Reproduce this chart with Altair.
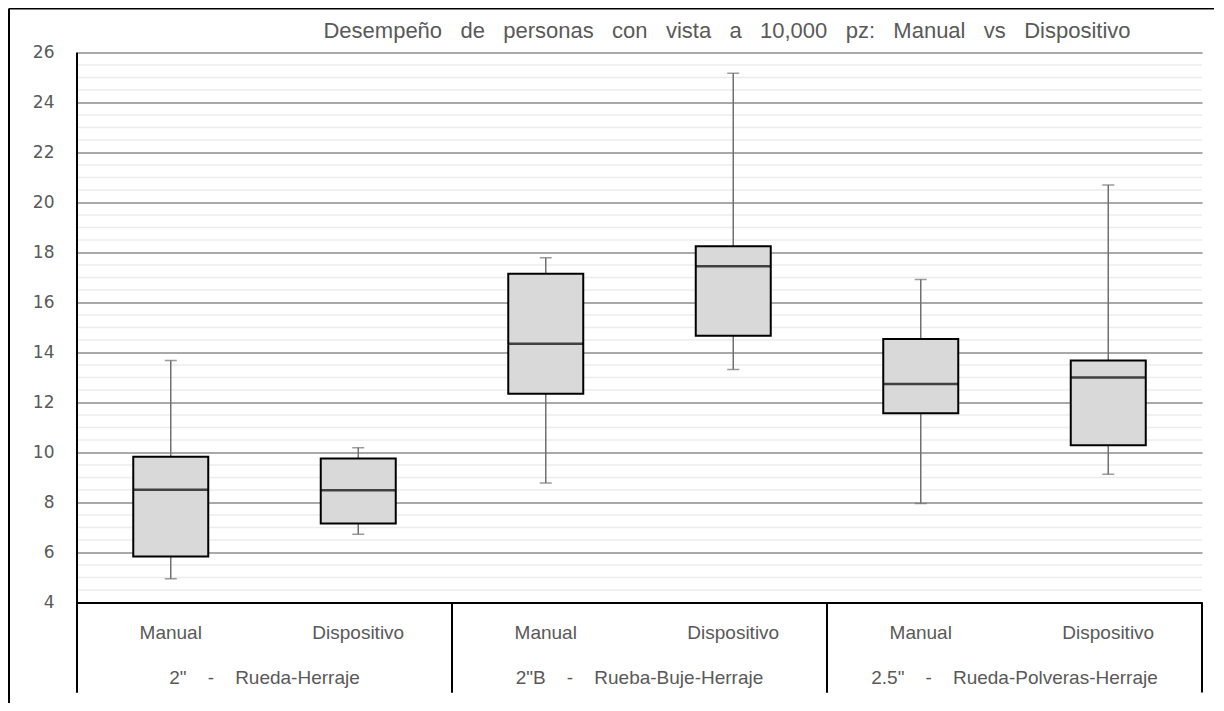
import altair as alt
import pandas as pd

# ---- data ----
groups = ['2"  -  Rueda-Herraje', '2"B  -  Rueba-Buje-Herraje', '2.5"  -  Rueda-Polveras-Herraje']
methods = ["Manual", "Dispositivo"]
mins = [4.95, 6.73, 8.78, 13.32, 7.96, 9.13]
q1s = [5.84, 7.16, 12.35, 14.67, 11.57, 10.29]
medians = [8.51, 8.49, 14.35, 17.45, 12.74, 13.00]
q3s = [9.83, 9.76, 17.15, 18.25, 14.54, 13.68]
maxs = [13.68, 10.19, 17.79, 25.17, 16.92, 20.70]
major_ticks = [4, 6, 8, 10, 12, 14, 16, 18, 20, 22, 24, 26]
minor_step = 0.5
title_text = "Desempeño de personas con vista a 10,000 pz: Manual vs Dispositivo"

NB = "\u00a0"
rows = []
for gi, g in enumerate(groups):
    for mi, m in enumerate(methods):
        i = gi * 2 + mi
        rows.append({"key": f"{gi}|{m}", "group": g, "method": m,
                     "lo": mins[i], "q1": q1s[i], "med": medians[i],
                     "q3": q3s[i], "hi": maxs[i]})
df = pd.DataFrame(rows)
keys = list(df["key"])
grp_df = pd.DataFrame({"key": [f"{gi}|Manual" for gi in range(len(groups))],
                       "endkey": [f"{gi}|Dispositivo" for gi in range(len(groups))],
                       "group": [g.replace(" ", NB + NB) for g in groups]})

minor_vals = [major_ticks[0] + minor_step * k
              for k in range(int((major_ticks[-1] - major_ticks[0]) / minor_step) + 1)]
minor_df = pd.DataFrame({"v": [v for v in minor_vals if v not in major_ticks]})

W, H = 1125, 550
GRAY = "#595959"
FONT = "Liberation Sans"

xscale = alt.Scale(domain=keys, paddingInner=0, paddingOuter=0)
yscale = alt.Scale(domain=[major_ticks[0], major_ticks[-1]], nice=False, zero=False)

xaxis = alt.Axis(title=None, labelExpr="split(datum.label, '|')[1]", ticks=False, tickSize=0,
                 labelPadding=30, labelBaseline="middle", labelAngle=0,
                 labelFontSize=19, labelColor=GRAY, labelFont=FONT,
                 domainColor="black", domainWidth=2, grid=False)
yaxis = alt.Axis(title=None, values=major_ticks, grid=True, gridColor="#8c8c8c",
                 gridWidth=1.5, labelOverlap=False, ticks=False, tickSize=0, labelPadding=23,
                 labelFontSize=17, labelColor=GRAY, labelFont="DejaVu Sans",
                 domain=False)

minor = alt.Chart(minor_df).mark_rule(color="#ececec", strokeWidth=1.5).encode(
    y=alt.Y("v:Q", scale=yscale, axis=yaxis))

base = alt.Chart(df)
X = alt.X("key:N", scale=xscale, axis=xaxis, sort=keys)

whisker = base.mark_rule(color="#707070", strokeWidth=1.5).encode(
    x=X, y=alt.Y("lo:Q", scale=yscale, axis=yaxis), y2="hi:Q")
cap_lo = base.mark_tick(color="#707070", size=12, thickness=1.5).encode(x=X, y="lo:Q")
cap_hi = base.mark_tick(color="#707070", size=12, thickness=1.5).encode(x=X, y="hi:Q")
box = base.mark_bar(size=75, color="#d9d9d9", stroke="black", strokeWidth=2).encode(
    x=X, y="q1:Q", y2="q3:Q")
median = base.mark_tick(color="black", size=75, thickness=2.5).encode(x=X, y="med:Q")

gbase = alt.Chart(grp_df)
grp_text = gbase.mark_text(fontSize=19, color=GRAY, font=FONT, baseline="middle", align="center").encode(
    x=alt.X("key:N", scale=xscale, bandPosition=1), y=alt.value(H + 75), text="group:N")
div_right = gbase.mark_rule(color="black", strokeWidth=2).encode(
    x=alt.X("endkey:N", scale=xscale, bandPosition=1), y=alt.value(H), y2=alt.value(H + 90))
# left edge of the first group extends upward as the value-axis line
axis_left = alt.Chart(grp_df.head(1)).mark_rule(color="black", strokeWidth=2).encode(
    x=alt.X("key:N", scale=xscale, bandPosition=0), y=alt.value(0), y2=alt.value(H + 90))
div_left = gbase.mark_rule(color="black", strokeWidth=2).encode(
    x=alt.X("key:N", scale=xscale, bandPosition=0), y=alt.value(H), y2=alt.value(H + 90))

title_df = pd.DataFrame({"t": [title_text.replace(" ", NB * 3)]})
title = alt.Chart(title_df).mark_text(fontSize=22, color=GRAY, font=FONT, align="center",
                                      baseline="middle").encode(
    x=alt.value(650), y=alt.value(-22), text="t:N")

frame_left = alt.Chart(title_df).mark_rule(color="black", strokeWidth=2).encode(
    x=alt.value(-68), y=alt.value(-44), y2=alt.value(H + 150))
frame_top = alt.Chart(title_df).mark_rule(color="black", strokeWidth=2).encode(
    x=alt.value(-68), x2=alt.value(W + 200), y=alt.value(-44))

chart = alt.layer(minor, whisker, cap_lo, cap_hi, box, median, grp_text, div_left, div_right,
                  axis_left, title, frame_left, frame_top).properties(
    width=W, height=H,
    autosize=alt.AutoSizeParams(type="none"),
    padding={"left": 69, "top": 44.5, "right": 12, "bottom": 100},
    background="white",
).configure_view(stroke=None)

chart.save("out.html", embed_options={"renderer": "svg", "actions": False})
